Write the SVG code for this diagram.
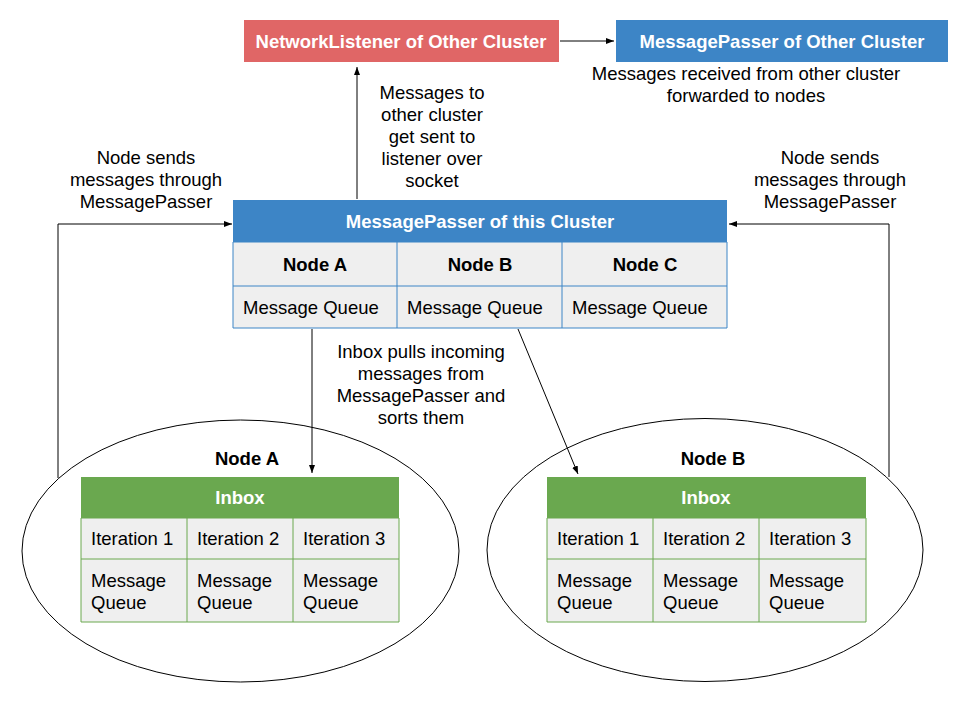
<svg xmlns="http://www.w3.org/2000/svg" width="960" height="720" viewBox="0 0 960 720">
<style>
text{font-family:"Liberation Sans",Arial,sans-serif;font-size:18.5px;fill:#000;dominant-baseline:central}
.b{font-weight:bold}
.w{fill:#fff;font-weight:bold}
.c{text-anchor:middle}
.cell{fill:#efefef}
.bl{stroke:#3d85c6;stroke-width:1;fill:none}
.gl{stroke:#6aa84f;stroke-width:1;fill:none}
.con{stroke:#000;stroke-width:1;fill:none}
.ell{stroke:#000;stroke-width:1;fill:none}
</style>
<defs>
<marker id="ah" markerUnits="userSpaceOnUse" markerWidth="9" markerHeight="7" refX="8" refY="3.5" orient="auto">
<path d="M0,0.5 L8,3.5 L0,6.5 z" fill="#000"/>
</marker>
</defs>
<rect width="960" height="720" fill="#fff"/>

<g id="networklistener">
<rect x="244" y="20" width="315" height="42" fill="#e06666"/>
<text class="w c" x="401" y="41">NetworkListener of Other Cluster</text>
</g>

<g id="messagepasser-other">
<rect x="616" y="20" width="332" height="42" fill="#3d85c6"/>
<text class="w c" x="782" y="41">MessagePasser of Other Cluster</text>
</g>

<g id="label-received">
<text class="c" x="746" y="73">Messages received from other cluster</text>
<text class="c" x="746" y="95">forwarded to nodes</text>
</g>

<g id="label-to-other">
<text class="c" x="432" y="92">Messages to</text>
<text class="c" x="432" y="114">other cluster</text>
<text class="c" x="432" y="136">get sent to</text>
<text class="c" x="432" y="158">listener over</text>
<text class="c" x="432" y="180">socket</text>
</g>

<g id="label-left-sends">
<text class="c" x="146" y="157">Node sends</text>
<text class="c" x="146" y="179">messages through</text>
<text class="c" x="146" y="201">MessagePasser</text>
</g>

<g id="label-right-sends">
<text class="c" x="830" y="157">Node sends</text>
<text class="c" x="830" y="179">messages through</text>
<text class="c" x="830" y="201">MessagePasser</text>
</g>

<g id="messagepasser-this">
<rect x="233" y="200" width="494" height="42" fill="#3d85c6"/>
<rect class="cell" x="233" y="242" width="494" height="86"/>
<path class="bl" d="M233,242 H727 M233,286 H727 M233,328 H727 M233,242 V328 M397,242 V328 M562,242 V328 M727,242 V328"/>
<text class="w c" x="480" y="221">MessagePasser of this Cluster</text>
<text class="b c" x="315" y="264">Node A</text>
<text class="b c" x="480" y="264">Node B</text>
<text class="b c" x="645" y="264">Node C</text>
<text x="243" y="307">Message Queue</text>
<text x="407" y="307">Message Queue</text>
<text x="572" y="307">Message Queue</text>
</g>

<g id="label-inbox-pulls">
<text class="c" x="421" y="351">Inbox pulls incoming</text>
<text class="c" x="421" y="373">messages from</text>
<text class="c" x="421" y="395">MessagePasser and</text>
<text class="c" x="421" y="417">sorts them</text>
</g>

<g id="node-a">
<ellipse class="ell" cx="240.5" cy="551" rx="218.5" ry="131"/>
<text class="b c" x="247" y="458">Node A</text>
<rect x="81" y="477" width="318" height="41" fill="#6aa84f"/>
<rect class="cell" x="81" y="518" width="318" height="104"/>
<path class="gl" d="M81,518 H399 M81,559 H399 M81,622 H399 M81,518 V622 M187,518 V622 M293,518 V622 M399,518 V622"/>
<text class="w c" x="240" y="497">Inbox</text>
<text x="91" y="538">Iteration 1</text>
<text x="197" y="538">Iteration 2</text>
<text x="303" y="538">Iteration 3</text>
<text x="91" y="580">Message</text>
<text x="91" y="602">Queue</text>
<text x="197" y="580">Message</text>
<text x="197" y="602">Queue</text>
<text x="303" y="580">Message</text>
<text x="303" y="602">Queue</text>
</g>

<g id="node-b">
<ellipse class="ell" cx="705" cy="550" rx="218" ry="131.5"/>
<text class="b c" x="713" y="458">Node B</text>
<rect x="547" y="477" width="319" height="41" fill="#6aa84f"/>
<rect class="cell" x="547" y="518" width="319" height="104"/>
<path class="gl" d="M547,518 H866 M547,559 H866 M547,622 H866 M547,518 V622 M653,518 V622 M759,518 V622 M866,518 V622"/>
<text class="w c" x="706" y="497">Inbox</text>
<text x="557" y="538">Iteration 1</text>
<text x="663" y="538">Iteration 2</text>
<text x="769" y="538">Iteration 3</text>
<text x="557" y="580">Message</text>
<text x="557" y="602">Queue</text>
<text x="663" y="580">Message</text>
<text x="663" y="602">Queue</text>
<text x="769" y="580">Message</text>
<text x="769" y="602">Queue</text>
</g>

<g id="connectors">
<line class="con" x1="560" y1="41" x2="614" y2="41" marker-end="url(#ah)"/>
<line class="con" x1="357" y1="199" x2="357" y2="67" marker-end="url(#ah)"/>
<polyline class="con" points="58,478 58,224 232,224" marker-end="url(#ah)"/>
<polyline class="con" points="889,477 889,224 729,224" marker-end="url(#ah)"/>
<line class="con" x1="312" y1="329" x2="312" y2="473" marker-end="url(#ah)"/>
<line class="con" x1="518" y1="329" x2="578" y2="474" marker-end="url(#ah)"/>
</g>
</svg>
